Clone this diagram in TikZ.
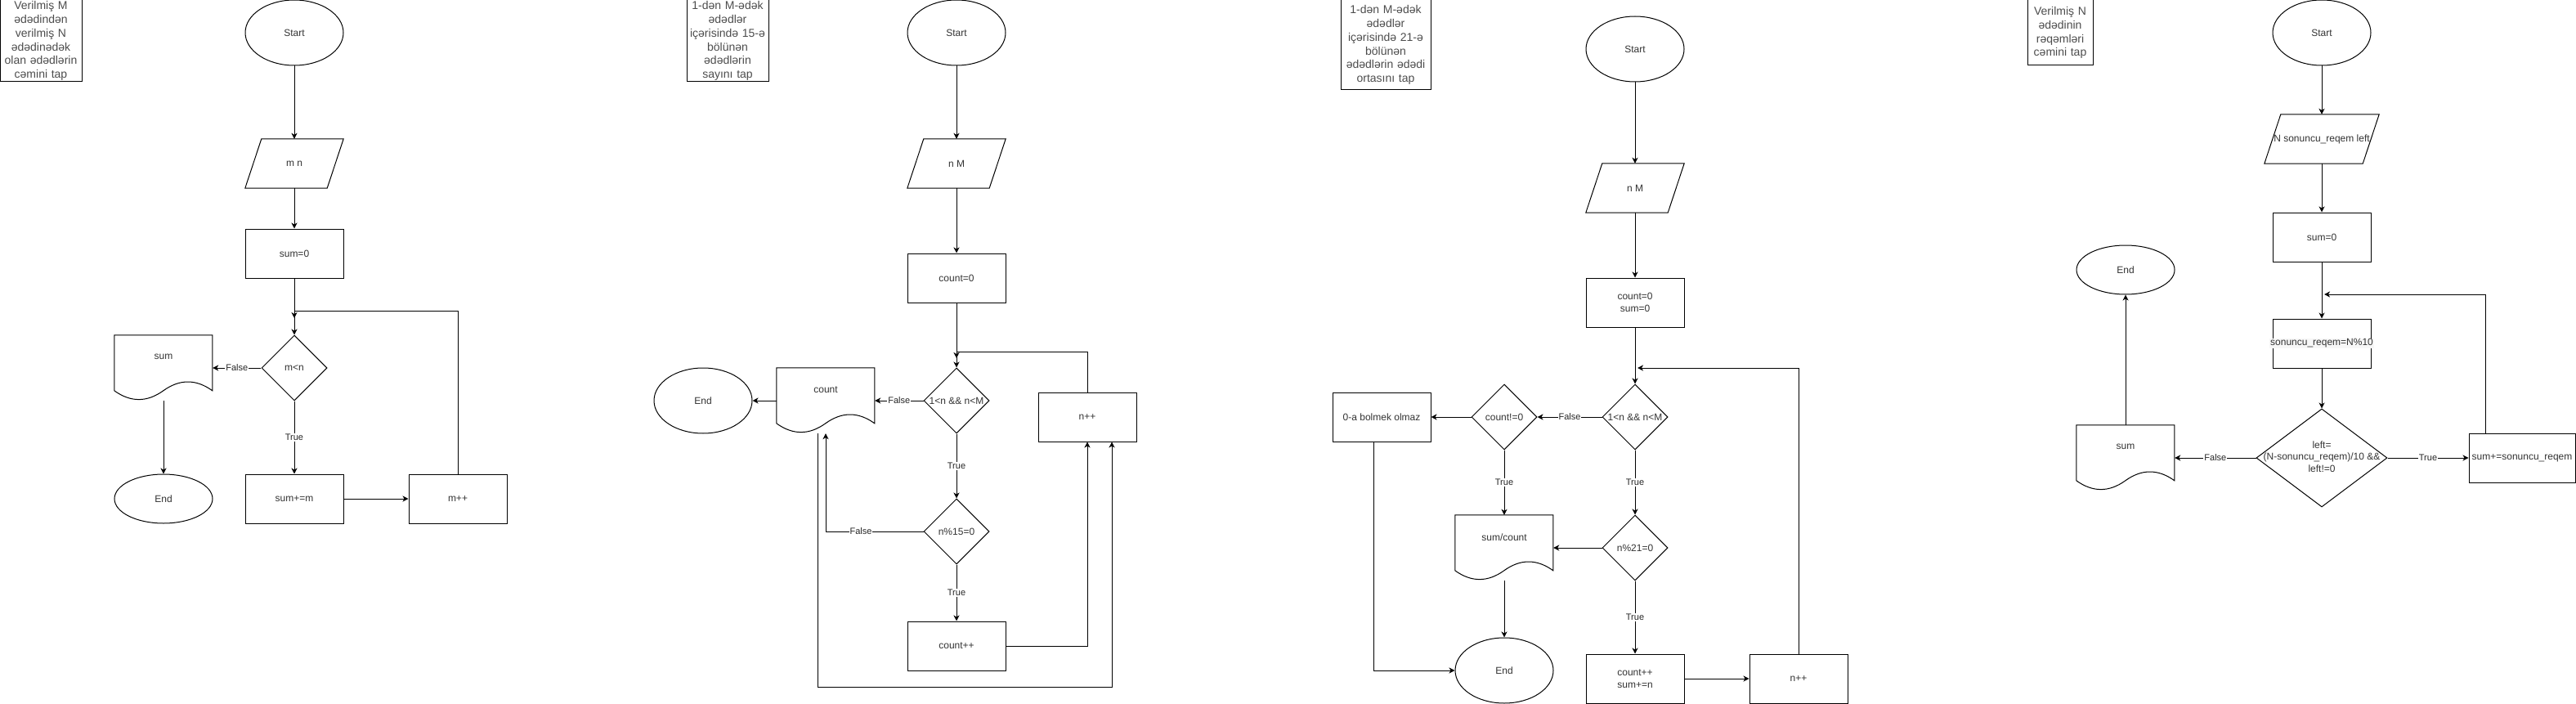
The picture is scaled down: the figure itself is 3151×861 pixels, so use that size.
\documentclass[tikz,border=0pt]{standalone}
\usepackage{fontspec}
\setmainfont{Liberation Sans}
\usetikzlibrary{positioning, arrows.meta, shapes.geometric, calc}

% parallelogram (input) drawn round a plain box
\newcommand{\ionode}[4][120pt]{%
  \node[iobase, minimum width=#1] (#2) at (#3) {#4};
  \draw[shapeline] ([xshift=20pt]#2.north west) -- (#2.north east)
    -- ([xshift=-20pt]#2.south east) -- (#2.south west) -- cycle;
}
% document (output) shape, 120 x 80, wavy bottom
\newcommand{\docnode}[3]{%
  \node[docbase, label={[doctext]north:#3}] (#1) at (#2) {};
  \begin{scope}[shift={(#1.north west)}]
    \draw[shapeline] (0,0) -- (120,0) -- (120,68)
      .. controls (100,53.6) and (80,53.6) .. (60,68)
      .. controls (40,82.4) and (20,82.4) .. (0,68) -- cycle;
  \end{scope}
}

\begin{document}
\begin{tikzpicture}[x=1pt, y=-1pt, font=\fontsize{12}{14.4}\selectfont,
    shapeline/.style={draw=black, line width=1pt},
    term/.style={ellipse, shapeline, minimum width=120pt, minimum height=80pt, inner sep=0pt, text=black!80},
    proc/.style={rectangle, shapeline, minimum width=120pt, minimum height=60pt, inner sep=0pt, align=center, text=black!80},
    diam/.style={diamond, shapeline, minimum width=80pt, minimum height=80pt, inner sep=0pt, text=black!80},
    iobase/.style={rectangle, minimum height=60pt, inner sep=0pt, text=black!80},
    docbase/.style={rectangle, minimum width=120pt, minimum height=80pt, inner sep=0pt},
    doctext/.style={anchor=center, yshift=-27pt, inner sep=0pt, text=black!80},
    titlebox/.style={rectangle, shapeline, inner sep=0pt, align=center, text=black!70,
      font=\fontsize{14}{16.8}\selectfont},
    lbl/.style={fill=white, inner sep=1pt, text=black!85, font=\fontsize{11}{13}\selectfont},
    arr/.style={line width=1pt, -{Stealth[length=7pt, width=7pt, inset=2pt]}},
  ]
  \useasboundingbox (0,0) rectangle (3151,861);

  % --- chart 1: sum from M to N
  \node[titlebox, text width=100pt, minimum height=100pt] (title1) at (50,50)
    {Verilmiş M\\ədədindən\\verilmiş N\\ədədinədək\\olan ədədlərin\\cəmini tap};
  \node[term] (start1) at (360,40) {Start};
  \ionode{io1}{360,200}{m n}
  \node[proc] (init1) at (360,310) {sum=0};
  \node[diam] (cond1) at (360,450) {\makebox[0pt]{m<n}};
  \docnode{out1}{200,450}{sum}
  \node[term, minimum height=60pt] (end1) at (200,610) {End};
  \node[proc] (body1) at (360,610) {sum+=m};
  \node[proc] (inc1) at (560,610) {m++};
  \coordinate (join1) at (360,380);
  \coordinate (loop1) at (360,389);

  \draw[arr] (start1) -- (io1);
  \draw[arr] (io1) -- (init1);
  \draw[arr] (init1) -- (cond1);
  \draw[arr] (cond1) -- node[lbl] {False} (out1);
  \draw[arr] (cond1) -- node[lbl] {True} (body1);
  \draw[arr] (body1) -- (inc1);
  \draw[arr] (out1) -- (end1);
  \draw[arr] (inc1.north) |- (join1) -- (loop1);

  % --- chart 2: count of multiples of 15
  \node[titlebox, text width=100pt, minimum height=100pt] (title2) at (890,50)
    {1-dən M-ədək\\ədədlər\\içərisində 15-ə\\bölünən\\ədədlərin\\sayını tap};
  \node[term] (start2) at (1170,40) {Start};
  \ionode{io2}{1170,200}{n M}
  \node[proc] (init2) at (1170,340) {count=0};
  \node[diam] (cond2a) at (1170,490) {\makebox[0pt]{1<n \&\& n<M}};
  \docnode{out2}{1010,490}{count}
  \node[term] (end2) at (860,490) {End};
  \node[proc] (inc2) at (1330,510) {n++};
  \node[diam] (cond2b) at (1170,650) {\makebox[0pt]{n\%15=0}};
  \node[proc] (body2) at (1170,790) {count++};
  \coordinate (join2) at (1170,430);
  \coordinate (loop2) at (1170,438);

  \draw[arr] (start2) -- (io2);
  \draw[arr] (io2) -- (init2);
  \draw[arr] (init2) -- (cond2a);
  \draw[arr] (cond2a) -- node[lbl] {False} (out2);
  \draw[arr] (out2) -- (end2);
  \draw[arr] (cond2a) -- node[lbl] {True} (cond2b);
  \draw[arr] (cond2b) -- node[lbl] {True} (body2);
  \draw[arr] (cond2b.west) -| node[lbl, pos=0.32] {False} (out2.south);
  \draw[arr] (body2.east) -| (inc2.south);
  \draw[arr] ([xshift=-10pt]out2.south) -- ++(0,310) -| ([xshift=30pt]inc2.south);
  \draw[arr] (inc2.north) |- (join2) -- (loop2);

  % --- chart 3: mean of multiples of 21
  \node[titlebox, text width=110pt, minimum height=110pt] (title3) at (1695,55)
    {1-dən M-ədək\\ədədlər\\içərisində 21-ə\\bölünən\\ədədlərin ədədi\\ortasını tap};
  \node[term] (start3) at (2000,60) {Start};
  \ionode{io3}{2000,230}{n M}
  \node[proc] (init3) at (2000,370) {count=0\\sum=0};
  \node[diam] (cond3a) at (2000,510) {\makebox[0pt]{1<n \&\& n<M}};
  \node[diam] (cond3b) at (1840,510) {\makebox[0pt]{count!=0}};
  \node[proc] (msg3) at (1690,510) {0-a bolmek olmaz};
  \docnode{out3}{1840,670}{sum/count}
  \node[diam] (cond3c) at (2000,670) {\makebox[0pt]{n\%21=0}};
  \node[proc] (body3) at (2000,830) {count++\\sum+=n};
  \node[proc] (inc3) at (2200,830) {n++};
  \node[term] (end3) at (1840,820) {End};
  \coordinate (loop3) at (2003,450);

  \draw[arr] (start3) -- (io3);
  \draw[arr] (io3) -- (init3);
  \draw[arr] (init3) -- (cond3a);
  \draw[arr] (cond3a) -- node[lbl] {False} (cond3b);
  \draw[arr] (cond3b) -- (msg3);
  \draw[arr] (cond3b) -- node[lbl] {True} (out3);
  \draw[arr] (cond3a) -- node[lbl] {True} (cond3c);
  \draw[arr] (cond3c) -- (out3);
  \draw[arr] (cond3c) -- node[lbl] {True} (body3);
  \draw[arr] (body3) -- (inc3);
  \draw[arr] (out3) -- (end3);
  \draw[arr] ([xshift=-10pt]msg3.south) |- (end3.west);
  \draw[arr] (inc3.north) |- (loop3);

  % --- chart 4: digit sum of N
  \node[titlebox, text width=80pt, minimum height=80pt] (title4) at (2520,40)
    {Verilmiş N\\ədədinin\\rəqəmləri\\cəmini tap};
  \node[term] (start4) at (2840,40) {Start};
  \ionode[140pt]{io4}{2840,170}{N sonuncu\_reqem left}
  \node[proc] (init4) at (2840,290) {sum=0};
  \node[proc] (step4) at (2840,420)
    {\makebox[0pt]{\setlength{\fboxsep}{1pt}\colorbox{black!3}{sonuncu\_reqem=N\%10}}};
  \node[diam, minimum width=160pt, minimum height=120pt] (cond4) at (2840,560)
    {\makebox[0pt]{\begin{tabular}{@{}c@{}}left=\\(N-sonuncu\_reqem)/10 \&\&\\left!=0\end{tabular}}};
  \docnode{out4}{2600,560}{sum}
  \node[term, minimum height=60pt] (end4) at (2600,330) {End};
  \node[proc, minimum width=130pt] (body4) at (3085,560) {sum+=sonuncu\_reqem};
  \coordinate (loop4) at (2843,360);

  \draw[arr] (start4) -- (io4);
  \draw[arr] (io4) -- (init4);
  \draw[arr] (init4) -- (step4);
  \draw[arr] (step4) -- (cond4);
  \draw[arr] (cond4) -- node[lbl] {False} (out4);
  \draw[arr] (cond4) -- node[lbl] {True} (body4);
  \draw[arr] (out4) -- (end4);
  \draw[arr] ([xshift=-45pt]body4.north) |- (loop4);
\end{tikzpicture}
\end{document}
